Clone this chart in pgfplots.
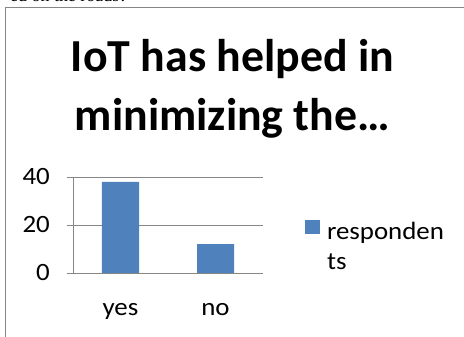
\documentclass[border=0pt]{standalone}
\usepackage{pgfplots}
\pgfplotsset{compat=1.18}
\usepackage{fontspec}
\setmainfont{Carlito}
\newfontfamily\widefont[FakeStretch=1.08]{Carlito}
\newfontfamily\seriffont{Liberation Serif}
\definecolor{barblue}{HTML}{4F81BD}
\definecolor{axgray}{HTML}{868686}
\begin{document}
\begin{tikzpicture}
\useasboundingbox (0,0) rectangle (464bp,337bp);
\begin{scope}
\clip (0,0) rectangle (464bp,337bp);
\draw[axgray, line width=1.5bp] (5.5bp,-20bp) -- (5.5bp,329.5bp) -- (480bp,329.5bp);
\node[anchor=base west, inner sep=0pt, font=\seriffont\fontsize{18}{20}\selectfont] at (10bp,335.5bp) {ed on the roads?};
\end{scope}
\node[anchor=base, inner sep=0pt, font=\fontsize{46}{56}\bfseries\selectfont] at (232.5bp,265bp) {IoT has helped in};
\node[anchor=base, inner sep=0pt, font=\fontsize{46}{56}\bfseries\selectfont] at (232.5bp,206bp) {minimizing the…};
\begin{axis}[
  at={(73bp,64bp)}, anchor=south west,
  scale only axis, width=190bp, height=96bp,
  xmin=-0.5, xmax=1.5, ymin=0, ymax=40,
  axis lines*=left,
  axis line style={axgray, line width=0.8bp, -},
  xtick={0,1}, xticklabels={yes,no},
  major x tick style={draw=none},
  extra x ticks={-0.5,0.5,1.5}, extra x tick labels={},
  extra x tick style={major tick length=6bp, tick align=outside, major tick style={axgray, line width=0.8bp}},
  ytick={0,20,40},
  ymajorgrids, grid style={axgray, line width=0.8bp},
  major y tick style={axgray, line width=0.8bp},
  major tick length=6bp, tick align=outside,
  /pgf/number format/assume math mode=true,
  ticklabel style={font=\widefont\fontsize{25}{30}\selectfont},
  yticklabel style={anchor=east, inner sep=0pt, xshift=-17bp},
  xticklabel style={anchor=base, inner sep=0pt, yshift=-36bp},
  legend style={draw=none, fill=none, at={(axis description cs:1.22,0.55)}, anchor=north west, inner sep=0pt, row sep=6bp, column sep=7bp, font=\widefont\fontsize{25}{30}\selectfont, nodes={inner sep=0pt, text height=18bp, text depth=6bp}},
  legend cell align=left,
  legend image code/.code={\fill[#1] (0bp,-1bp) rectangle (15bp,13bp);},
]
\addplot[ybar, bar width=37bp, fill=barblue, draw=none, bar shift=0pt] coordinates {(0,38) (1,12)};
\addlegendentry{responden}
\addlegendimage{empty legend}
\addlegendentry{ts}
\end{axis}
\end{tikzpicture}
\end{document}
